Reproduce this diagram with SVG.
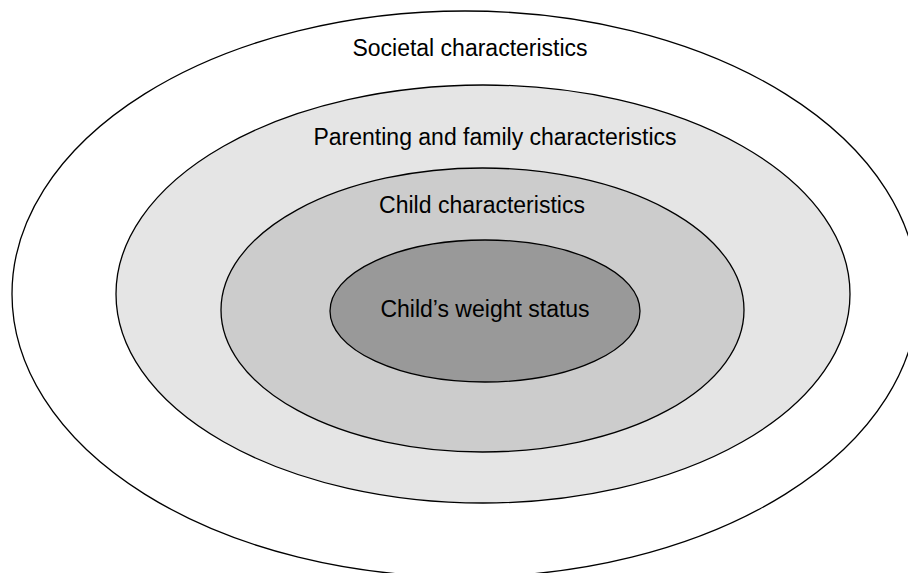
<svg xmlns="http://www.w3.org/2000/svg" width="908" height="573" viewBox="0 0 908 573">
<style>
.ring{stroke:#000;stroke-width:1.3}
.lbl{font-family:"Liberation Sans",Arial,sans-serif;font-size:23px;fill:#000;text-anchor:middle}
</style>
<rect width="908" height="573" fill="#fff"/>
<g id="societal">
<ellipse class="ring" cx="465" cy="294" rx="453" ry="283" fill="#fff"/>
<text class="lbl" x="470" y="56">Societal characteristics</text>
</g>
<g id="parenting">
<ellipse class="ring" cx="483" cy="294" rx="367" ry="209" fill="#e5e5e5"/>
<text class="lbl" x="495" y="145">Parenting and family characteristics</text>
</g>
<g id="child">
<ellipse class="ring" cx="482.5" cy="310" rx="261.5" ry="142" fill="#cccccc"/>
<text class="lbl" x="482" y="213">Child characteristics</text>
</g>
<g id="weight">
<ellipse class="ring" cx="485" cy="311" rx="155" ry="71" fill="#999999"/>
<text class="lbl" x="485" y="317">Child’s weight status</text>
</g>
<g id="connectors"/>
</svg>
